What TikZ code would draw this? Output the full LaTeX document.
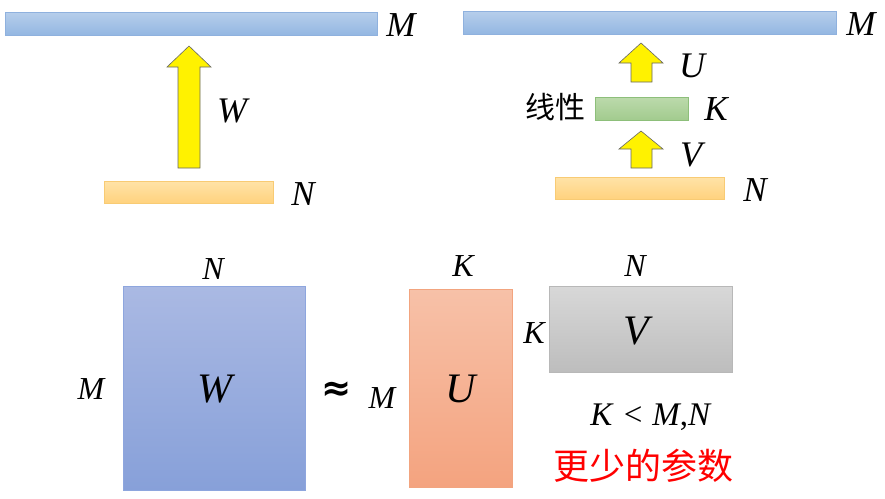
\documentclass[tikz,border=0pt]{standalone}
\usepackage{fontspec}
\setmainfont{Liberation Serif}
\newfontfamily\cjk{Noto Sans CJK SC}
\newfontfamily\djv{DejaVu Sans}
\begin{document}
\begin{tikzpicture}[x=1pt,y=-1pt,
  bar/.style={line width=0.8pt},
  bluebar/.style={bar,top color=bltop,bottom color=blbot,draw=blbrd},
  orbar/.style={bar,top color=ortop,bottom color=orbot,draw=orbrd},
  grbar/.style={bar,top color=grtop,bottom color=grbot,draw=grbrd},
  yarrow/.style={fill=yellow,draw=black!60,line width=0.6pt},
  lab/.style={inner sep=0pt,font=\fontsize{35}{35}\selectfont\itshape},
  labop/.style={inner sep=0pt,font=\fontsize{36}{36}\selectfont\itshape},
  labs/.style={inner sep=0pt,font=\fontsize{32}{32}\selectfont\itshape},
  big/.style={inner sep=0pt,font=\fontsize{42}{42}\selectfont\itshape}]
\definecolor{bltop}{HTML}{B6CEEB}
\definecolor{blbot}{HTML}{94B7E2}
\definecolor{blbrd}{HTML}{8FB1DE}
\definecolor{ortop}{HTML}{FFE3A8}
\definecolor{orbot}{HTML}{FFD27E}
\definecolor{orbrd}{HTML}{F8CB74}
\definecolor{grtop}{HTML}{BCDAAC}
\definecolor{grbot}{HTML}{A2CB8E}
\definecolor{grbrd}{HTML}{8DBF7A}
\definecolor{wtop}{HTML}{AAB9E3}
\definecolor{wbot}{HTML}{87A0D9}
\definecolor{wbrd}{HTML}{8EA6DE}
\definecolor{utop}{HTML}{F7C1A8}
\definecolor{ubot}{HTML}{F4A37F}
\definecolor{ubrd}{HTML}{F2A47F}
\definecolor{vtop}{HTML}{D8D8D8}
\definecolor{vbot}{HTML}{BDBDBD}
\definecolor{vbrd}{HTML}{B8B8B8}
\useasboundingbox (0,0) rectangle (885,498);

% top-left
\draw[bluebar] (5,12) rectangle (377,35);
\node[lab] (m1) at (401,25) {M};
\draw[yarrow] (178,168) -- (178,67) -- (167,67) -- (189,46) -- (211,67) -- (200,67) -- (200,168) -- cycle;
\node[labop] (w1) at (232,111) {W};
\draw[orbar] (104,181) rectangle (273,203);
\node[lab] (n1) at (303,194) {N};

% top-right
\draw[bluebar] (463,11) rectangle (836,34);
\node[lab] (m2) at (861,24) {M};
\draw[yarrow] (631,82) -- (631,63) -- (619,63) -- (641,43) -- (663,63) -- (652,63) -- (652,82) -- cycle;
\node[labop] (u1) at (692,66) {U};
\draw[grbar] (595,97) rectangle (688,120);
\node[lab] (k1) at (716,109) {K};
\node[inner sep=0pt,font=\cjk\fontsize{30}{30}\selectfont] (lin) at (555,107) {线性};
\draw[yarrow] (631,168) -- (631,149) -- (619,149) -- (641,131) -- (663,149) -- (652,149) -- (652,168) -- cycle;
\node[labop] (v1) at (691,155) {V};
\draw[orbar] (555,177) rectangle (724,199);
\node[lab] (n2) at (755,190) {N};

% bottom
\draw[line width=0.8pt,top color=wtop,bottom color=wbot,draw=wbrd] (123,286) rectangle (305,490);
\node[big] (W) at (215,389) {W};
\node[labs] (nW) at (213,269) {N};
\node[labs] (mW) at (91,389) {M};
\node[inner sep=0pt,font=\djv\bfseries\fontsize{36}{36}\selectfont] (approx) at (337,391) {≈};

\draw[line width=0.8pt,top color=utop,bottom color=ubot,draw=ubrd] (409,289) rectangle (512,487);
\node[big] (U) at (461,389) {U};
\node[labs] (kU) at (463,266) {K};
\node[labs] (mU) at (382,398) {M};

\draw[line width=0.8pt,top color=vtop,bottom color=vbot,draw=vbrd] (549,286) rectangle (732,372);
\node[big] (V) at (636,331) {V};
\node[labs] (nV) at (635,266) {N};
\node[labs] (kV) at (534,333) {K};

\node[inner sep=0pt,font=\fontsize{33}{33}\selectfont] (cond) at (651,417) {\textit{K}\hspace{0.3em}<\hspace{0.3em}\textit{M},\textit{N}};
\node[inner sep=0pt,text=red,font=\cjk\fontsize{36}{36}\selectfont] (few) at (643,466) {更少的参数};
\end{tikzpicture}
\end{document}
